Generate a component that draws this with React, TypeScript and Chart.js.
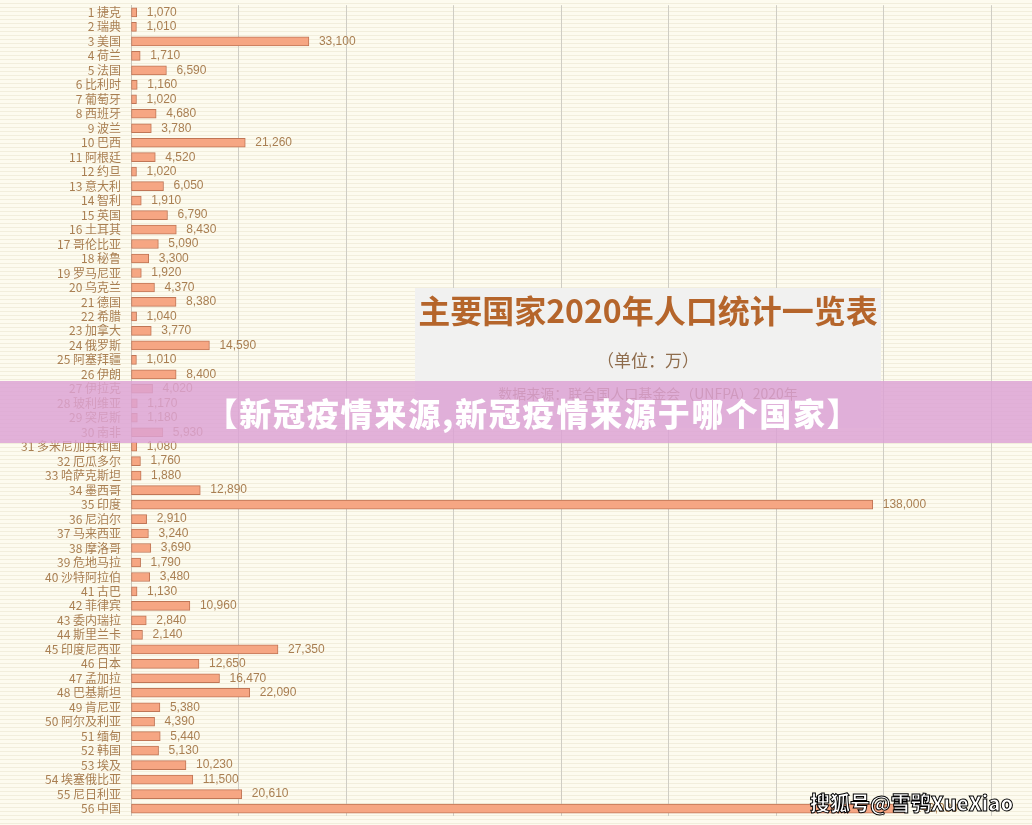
import React, { useEffect, useRef } from "react";
import { Chart, registerables } from "chart.js";

Chart.register(...registerables);

const countries: string[] = [
  "捷克", "瑞典", "美国", "荷兰", "法国", "比利时", "葡萄牙", "西班牙", "波兰", "巴西",
  "阿根廷", "约旦", "意大利", "智利", "英国", "土耳其", "哥伦比亚", "秘鲁", "罗马尼亚", "乌克兰",
  "德国", "希腊", "加拿大", "俄罗斯", "阿塞拜疆", "伊朗", "伊拉克", "玻利维亚", "突尼斯", "南非",
  "多米尼加共和国", "厄瓜多尔", "哈萨克斯坦", "墨西哥", "印度", "尼泊尔", "马来西亚", "摩洛哥", "危地马拉", "沙特阿拉伯",
  "古巴", "菲律宾", "委内瑞拉", "斯里兰卡", "印度尼西亚", "日本", "孟加拉", "巴基斯坦", "肯尼亚", "阿尔及利亚",
  "缅甸", "韩国", "埃及", "埃塞俄比亚", "尼日利亚", "中国",
];

const population: number[] = [
  1070, 1010, 33100, 1710, 6590, 1160, 1020, 4680, 3780, 21260,
  4520, 1020, 6050, 1910, 6790, 8430, 5090, 3300, 1920, 4370,
  8380, 1040, 3770, 14590, 1010, 8400, 4020, 1170, 1180, 5930,
  1080, 1760, 1880, 12890, 138000, 2910, 3240, 3690, 1790, 3480,
  1130, 10960, 2840, 2140, 27350, 12650, 16470, 22090, 5380, 4390,
  5440, 5130, 10230, 11500, 20610, 143930,
];

const categoryLabels: string[] = countries.map((c, i) => `${i + 1} ${c}`);

const titleText = "主要国家2020年人口统计一览表";
const unitText = "（单位：万）";
const sourceText = "数据来源：联合国人口基金会（UNFPA）2020年";
const bannerText = "【新冠疫情来源,新冠疫情来源于哪个国家】";
const watermarkText = "搜狐号@雪鸮XueXiao";

const xMax = 160000;
const xStep = 20000;

const labelColor = "#a97f52";

const valueLabelPlugin = {
  id: "valueLabels",
  afterDatasetsDraw(chart: any) {
    const ctx = chart.ctx;
    const meta = chart.getDatasetMeta(0);
    ctx.save();
    ctx.font = '12px "Liberation Sans Narrow", "Liberation Sans", sans-serif';
    ctx.fillStyle = labelColor;
    ctx.textAlign = "left";
    ctx.textBaseline = "middle";
    meta.data.forEach((bar: any, i: number) => {
      const v = population[i];
      ctx.fillText(v.toLocaleString("en-US"), bar.x + 10, bar.y);
    });
    ctx.restore();
  },
};

export default function App() {
  const canvasRef = useRef<HTMLCanvasElement | null>(null);

  useEffect(() => {
    document.body.style.margin = "0";
    const canvas = canvasRef.current;
    if (!canvas) return;
    const chart = new Chart(canvas, {
      type: "bar",
      data: {
        labels: categoryLabels,
        datasets: [
          {
            data: population,
            backgroundColor: "#f6a683",
            borderColor: "#c07656",
            borderWidth: 1,
            borderSkipped: false,
            barThickness: 9,
          },
        ],
      },
      options: {
        indexAxis: "y",
        animation: false,
        responsive: false,
        maintainAspectRatio: false,
        layout: { padding: { top: 3, bottom: 10, right: 41, left: 0 } },
        plugins: {
          legend: { display: false },
          tooltip: { enabled: false },
        },
        scales: {
          x: {
            min: 0,
            max: xMax,
            ticks: { display: false, stepSize: xStep },
            grid: { color: "#cfcdc4", lineWidth: 1, drawTicks: false },
            border: { display: false },
          },
          y: {
            ticks: {
              color: labelColor,
              font: { family: '"Noto Sans CJK SC", sans-serif', size: 12 },
              padding: 10,
              autoSkip: false,
            },
            grid: { display: false, drawTicks: false },
            border: { display: true, color: "#c8c6bc" },
            afterFit: (scale: any) => {
              scale.width = 131;
            },
          },
        },
      },
      plugins: [valueLabelPlugin],
    } as any);
    return () => chart.destroy();
  }, []);

  return (
    <div
      style={{
        position: "absolute",
        left: 0,
        top: 0,
        width: 1032,
        height: 825,
        overflow: "hidden",
        background:
          "repeating-linear-gradient(to bottom, #fdfbef 0px, #fdfbef 3px, #f2eedc 3px, #f2eedc 4px)",
      }}
    >
      <canvas
        ref={canvasRef}
        width={1032}
        height={845}
        style={{ position: "absolute", left: 0, top: -12, width: 1032, height: 845 }}
      />
      <div
        style={{
          position: "absolute",
          left: 415,
          top: 288,
          width: 466,
          height: 140,
          background: "#f1f1f0",
          fontFamily: '"Noto Sans CJK SC", sans-serif',
          textAlign: "center",
        }}
      >
        <div
          style={{
            position: "absolute",
            left: 0,
            right: 0,
            top: 0,
            fontSize: 32,
            fontWeight: 700,
            color: "#b5652b",
            lineHeight: "42px",
            whiteSpace: "nowrap",
          }}
        >
          {titleText}
        </div>
        <div
          style={{
            position: "absolute",
            left: 0,
            right: 0,
            top: 60,
            fontSize: 17,
            color: "#8e6c4c",
            lineHeight: "24px",
          }}
        >
          {unitText}
        </div>
        <div
          style={{
            position: "absolute",
            left: 0,
            right: 0,
            top: 95,
            fontSize: 14,
            color: "#8e6c4c",
            lineHeight: "20px",
          }}
        >
          {sourceText}
        </div>
      </div>
      <div
        style={{
          position: "absolute",
          left: 0,
          top: 381,
          width: 1032,
          height: 62,
          background: "rgba(220, 162, 212, 0.84)",
          color: "#ffffff",
          fontFamily: '"Noto Sans CJK SC", sans-serif',
          fontWeight: 900,
          fontSize: 32,
          letterSpacing: 1.8,
          lineHeight: "62px",
          textAlign: "center",
          whiteSpace: "nowrap",
        }}
      >
        <span style={{ position: "relative", left: 17 }}>{bannerText}</span>
      </div>
      <div
        style={{
          position: "absolute",
          left: 810,
          top: 789,
          fontFamily: '"Noto Sans CJK SC", sans-serif',
          fontWeight: 900,
          fontSize: 20,
          color: "#ffffff",
          lineHeight: "28px",
          WebkitTextStroke: "1px #000000",
          whiteSpace: "nowrap",
        }}
      >
        {watermarkText}
      </div>
    </div>
  );
}
